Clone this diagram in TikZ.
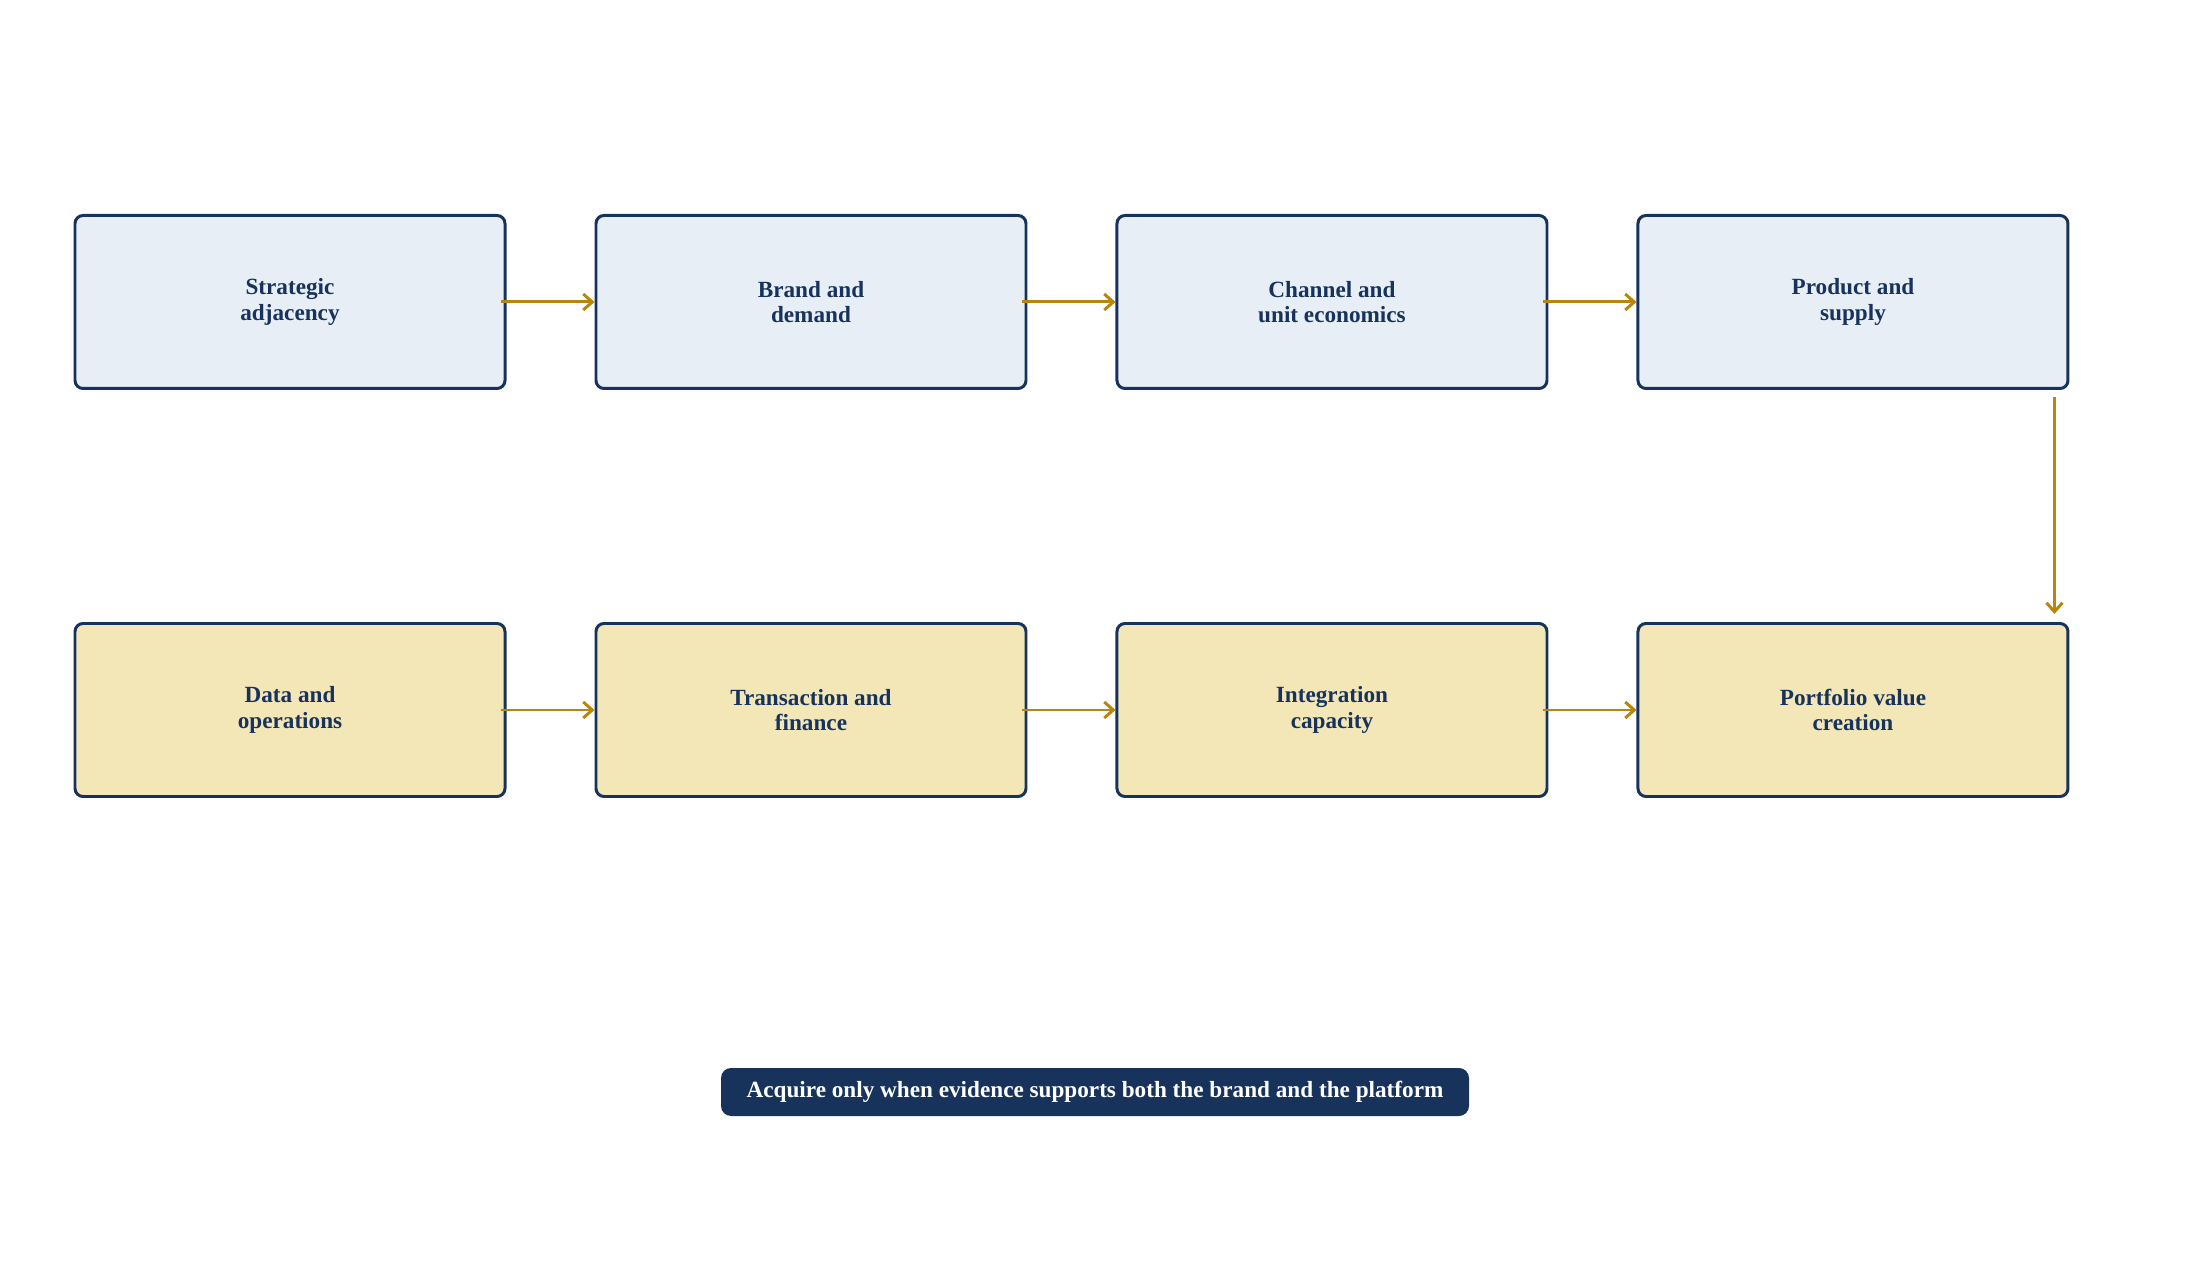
\documentclass[tikz,border=0pt]{standalone}
\usepackage{fontspec}
\setmainfont{Liberation Serif}
\usetikzlibrary{positioning,arrows.meta}
\definecolor{navy}{HTML}{17335C}
\definecolor{paleblue}{HTML}{E7EEF6}
\definecolor{paleyellow}{HTML}{F3E7B8}
\definecolor{gold}{HTML}{B8860B}
\tikzset{stage/.style={draw=navy, line width=0.85pt, rounded corners=0.08cm, minimum width=4.3cm, minimum height=1.73cm, align=center, text=navy, font=\fontsize{6.6}{7.2}\selectfont\bfseries},
  upper/.style={stage, fill=paleblue}, lower/.style={stage, fill=paleyellow},
  flow/.style={gold, line width=0.85pt, -{Straight Barb[length=0.9mm,width=1.6mm]}}}

\begin{document}
\begin{tikzpicture}
  \useasboundingbox (0,0) rectangle (21.91,12.67);
  \node[upper] (p1) at (2.90,9.65) {Strategic\\adjacency};
  \node[upper, right=0.88cm of p1] (p2) {Brand and\\demand};
  \node[upper, right=0.88cm of p2] (p3) {Channel and\\unit economics};
  \node[upper, right=0.88cm of p3] (p4) {Product and\\supply};
  \node[lower] (p5) at (2.90,5.57) {Data and\\operations};
  \node[lower, right=0.88cm of p5] (p6) {Transaction and\\finance};
  \node[lower, right=0.88cm of p6] (p7) {Integration\\capacity};
  \node[lower, right=0.88cm of p7] (p8) {Portfolio value\\creation};
  \foreach \a/\b in {p1/p2,p2/p3,p3/p4,p5/p6,p6/p7,p7/p8}
    \draw[flow] ([xshift=-0.05cm]\a.east) -- (\b.west);
  \draw[flow] ([xshift=-0.15cm,yshift=-0.07cm]p4.south east) -- ([xshift=-0.15cm,yshift=0.08cm]p8.north east);
  \node[fill=navy, text=white, rounded corners=0.1cm, minimum width=7.48cm, minimum height=0.48cm, font=\fontsize{6.6}{8}\selectfont\bfseries] (note) at (10.95,1.75) {Acquire only when evidence supports both the brand and the platform};
\end{tikzpicture}
\end{document}
